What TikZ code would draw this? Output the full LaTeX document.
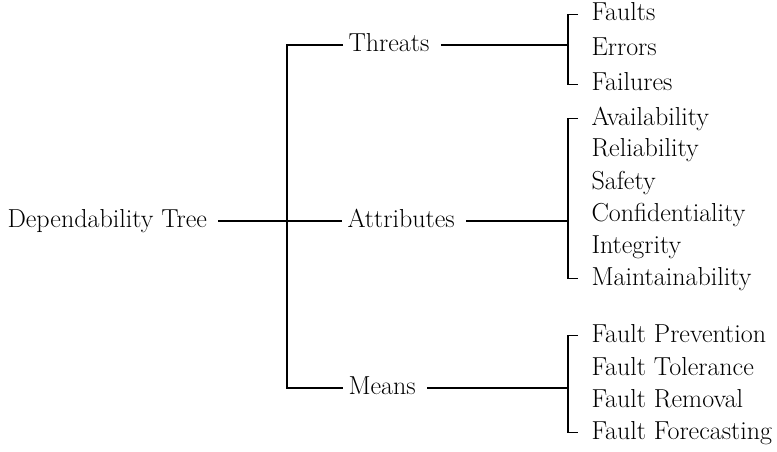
\documentclass[tikz,border=0pt]{standalone}
\usepackage{times}
\tikzset{lbl/.style={anchor=west,inner xsep=5pt,inner ysep=0pt,text height=18pt,text depth=5pt,font=\fontsize{26pt}{30pt}\selectfont}}
\newcommand{\DTbrack}[3]{\draw ([xshift=-8pt]#1.west) -- ++(-10pt,0) coordinate (#3b) |- ([xshift=-8pt]#2.west);
  \draw ([xshift=6pt]#3.east) -- (#3 -| #3b);}

\begin{document}
\begin{tikzpicture}[x=1pt,y=-1pt,line width=1.1pt]
  \useasboundingbox (0,0) rectangle (777,452);
  \node[lbl] (root) at (2,221) {Dependability Tree};
  \node[lbl] (thr) at (343,45) {Threats};
  \node[lbl] (att) at (342,221) {Attributes};
  \node[lbl] (mea) at (343,388) {Means};
  \coordinate (trunk) at (287,221);
  \draw ([xshift=6pt]root.east) -- (att.west);
  \draw (thr.west) -- (thr -| trunk) -- (mea -| trunk) -- (mea.west);
  \foreach \nm/\lab/\y in {t1/Faults/14.5,t2/Errors/49.5,t3/Failures/84.5,
    a1/Availability/118.5,a2/Reliability/150.5,a3/Safety/182.5,
    a4/Confidentiality/214.5,a5/Integrity/246.5,a6/Maintainability/278.5,
    m1/Fault Prevention/335.5,m2/Fault Tolerance/368.5,
    m3/Fault Removal/400.5,m4/Fault Forecasting/432.5}{\node[lbl] (\nm) at (586,\y) {\lab};}
  \DTbrack{t1}{t3}{thr}
  \DTbrack{a1}{a6}{att}
  \DTbrack{m1}{m4}{mea}
\end{tikzpicture}
\end{document}
